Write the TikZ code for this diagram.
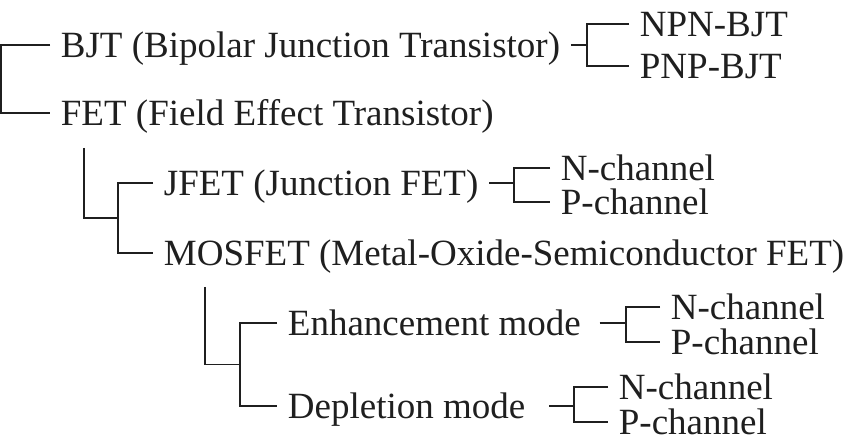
\documentclass[tikz,border=0pt]{standalone}
\usepackage{fontspec}
\setmainfont{Liberation Serif}
\usetikzlibrary{calc}

\begin{document}
\begin{tikzpicture}[x=1pt,y=-1pt,line width=1.8pt,color=black!88,
  item/.style={anchor=west,inner xsep=10pt,inner ysep=0pt,text height=24.5pt,text depth=0pt,font=\fontsize{37}{44}\selectfont}]
\useasboundingbox (0,0) rectangle (854,446);
\node[item] (bjt) at (50,45) {BJT (Bipolar Junction Transistor)};
\node[item] (fet) at (50,113) {FET (Field Effect Transistor)};
\node[item] (npn) at (629,24) {NPN-BJT};
\node[item] (pnp) at (629,66) {PNP-BJT};
\node[item] (jfet) at (153,183) {JFET (Junction FET)};
\node[item] (mosfet) at (153,253) {MOSFET (Metal-Oxide-Semiconductor FET)};
\node[item] (jn) at (550,168) {N-channel};
\node[item] (jp) at (550,202) {P-channel};
\node[item] (enh) at (277,323) {Enhancement mode};
\node[item] (dep) at (277,406) {Depletion mode};
\node[item] (en) at (660,307) {N-channel};
\node[item] (ep) at (660,342) {P-channel};
\node[item] (dn) at (608,387) {N-channel};
\node[item] (dp) at (608,422) {P-channel};
\draw (bjt.west) -- ++(-49,0) |- (fet.west);
\draw (bjt.east) -- ++(16,0) coordinate (b1);
\draw (npn.west) -| (b1) |- (pnp.west);
\draw ([shift={(34,35)}]fet.west) |- ($(jfet.west)!.5!(mosfet.west)+(-35,0)$);
\draw (jfet.west) -- ++(-35,0) |- (mosfet.west);
\draw (jfet.east) -- ++(25,0) coordinate (j1);
\draw (jn.west) -| (j1) |- (jp.west);
\draw ([shift={(52,34)}]mosfet.west) |- ($(enh.west)!.5!(dep.west)+(-37,0)$);
\draw (enh.west) -- ++(-37,0) |- (dep.west);
\draw ([xshift=8pt]enh.east) -- ++(26,0) coordinate (e1);
\draw (en.west) -| (e1) |- (ep.west);
\draw ([xshift=13pt]dep.east) -- ++(25,0) coordinate (d1);
\draw (dn.west) -| (d1) |- (dp.west);
\end{tikzpicture}
\end{document}
